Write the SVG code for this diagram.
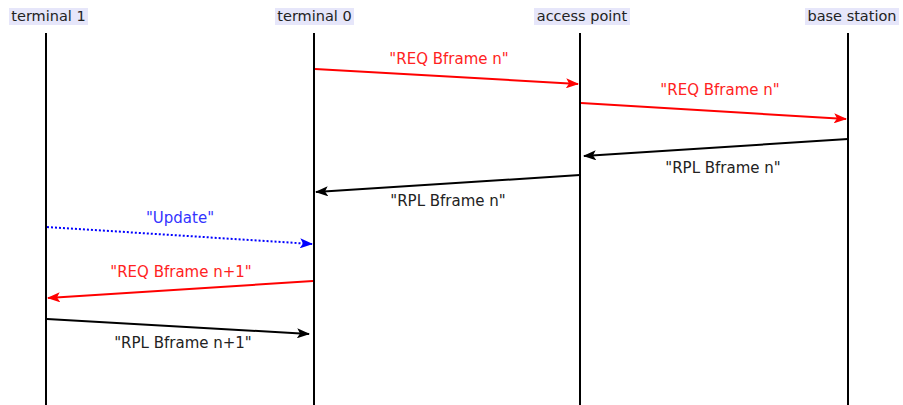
<svg xmlns="http://www.w3.org/2000/svg" width="903" height="405" viewBox="0 0 903 405">
  <style>
    .hdr { font-family: "DejaVu Sans", "Liberation Sans", sans-serif; font-size: 14.5px; fill: #222; text-anchor: middle; }
    .hbg { fill: #e6e6fa; }
    .life { stroke: #000; stroke-width: 2; }
    .lbl { font-family: "DejaVu Sans", "Liberation Sans", sans-serif; font-size: 15px; text-anchor: middle; }
    .red { stroke: #ff0000; stroke-width: 2; fill: none; }
    .blk { stroke: #000; stroke-width: 2; fill: none; }
    .blu { stroke: #0000ff; stroke-width: 2; fill: none; stroke-dasharray: 2 2; }
  </style>
  <defs>
    <marker id="ah-red" viewBox="0 0 13 10" refX="12" refY="5" markerWidth="13" markerHeight="10" markerUnits="userSpaceOnUse" orient="auto">
      <path d="M0,0 L13,5 L0,10 L3,5 Z" fill="#ff0000"/>
    </marker>
    <marker id="ah-blk" viewBox="0 0 13 10" refX="12" refY="5" markerWidth="13" markerHeight="10" markerUnits="userSpaceOnUse" orient="auto">
      <path d="M0,0 L13,5 L0,10 L3,5 Z" fill="#000"/>
    </marker>
    <marker id="ah-blu" viewBox="0 0 13 10" refX="12" refY="5" markerWidth="13" markerHeight="10" markerUnits="userSpaceOnUse" orient="auto">
      <path d="M0,0 L13,5 L0,10 L3,5 Z" fill="#0000ff"/>
    </marker>
  </defs>

  <g id="terminal1">
    <rect class="hbg" x="9" y="8" width="79" height="17"/>
    <text class="hdr" x="48.5" y="21">terminal 1</text>
    <line class="life" x1="46" y1="33" x2="46" y2="405"/>
  </g>
  <g id="terminal0">
    <rect class="hbg" x="275" y="8" width="79" height="17"/>
    <text class="hdr" x="314.5" y="21">terminal 0</text>
    <line class="life" x1="314" y1="33" x2="314" y2="405"/>
  </g>
  <g id="access-point">
    <rect class="hbg" x="534" y="8" width="96" height="17"/>
    <text class="hdr" x="582" y="21">access point</text>
    <line class="life" x1="580" y1="33" x2="580" y2="405"/>
  </g>
  <g id="base-station">
    <rect class="hbg" x="805" y="8" width="94" height="17"/>
    <text class="hdr" x="852" y="21">base station</text>
    <line class="life" x1="848" y1="33" x2="848" y2="405"/>
  </g>

  <g id="connectors">
    <line class="red" x1="315" y1="69" x2="578" y2="84" marker-end="url(#ah-red)"/>
    <text class="lbl" x="449" y="64" fill="#ff2222">"REQ Bframe n"</text>

    <line class="red" x1="581" y1="103" x2="846" y2="119" marker-end="url(#ah-red)"/>
    <text class="lbl" x="720" y="95" fill="#ff2222">"REQ Bframe n"</text>

    <line class="blk" x1="848" y1="139" x2="584" y2="156" marker-end="url(#ah-blk)"/>
    <text class="lbl" x="723" y="173" fill="#222">"RPL Bframe n"</text>

    <line class="blk" x1="580" y1="175" x2="316" y2="192" marker-end="url(#ah-blk)"/>
    <text class="lbl" x="448" y="206" fill="#222">"RPL Bframe n"</text>

    <line class="blu" x1="47" y1="227" x2="312" y2="244" marker-end="url(#ah-blu)"/>
    <text class="lbl" x="180" y="223" fill="#3333ff">"Update"</text>

    <line class="red" x1="313" y1="281" x2="48" y2="298" marker-end="url(#ah-red)"/>
    <text class="lbl" x="181" y="277" fill="#ff2222">"REQ Bframe n+1"</text>

    <line class="blk" x1="47" y1="319" x2="309" y2="334" marker-end="url(#ah-blk)"/>
    <text class="lbl" x="183" y="348" fill="#222">"RPL Bframe n+1"</text>
  </g>
</svg>
